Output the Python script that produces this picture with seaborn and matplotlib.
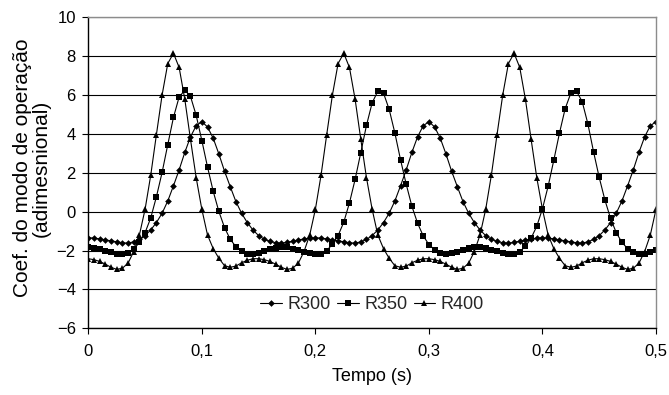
import matplotlib
matplotlib.use("Agg")
import matplotlib.pyplot as plt
import pandas as pd
import seaborn as sns

sns.set_theme(style="ticks")
plt.rcParams['font.family'] = ['Liberation Sans', 'DejaVu Sans']

# ---------------- data ----------------
time_s = [0.000, 0.005, 0.010, 0.015, 0.020, 0.025, 0.030, 0.035, 0.040, 0.045,
          0.050, 0.055, 0.060, 0.065, 0.070, 0.075, 0.080, 0.085, 0.090, 0.095,
          0.100, 0.105, 0.110, 0.115, 0.120, 0.125, 0.130, 0.135, 0.140, 0.145,
          0.150, 0.155, 0.160, 0.165, 0.170, 0.175, 0.180, 0.185, 0.190, 0.195,
          0.200, 0.205, 0.210, 0.215, 0.220, 0.225, 0.230, 0.235, 0.240, 0.245,
          0.250, 0.255, 0.260, 0.265, 0.270, 0.275, 0.280, 0.285, 0.290, 0.295,
          0.300, 0.305, 0.310, 0.315, 0.320, 0.325, 0.330, 0.335, 0.340, 0.345,
          0.350, 0.355, 0.360, 0.365, 0.370, 0.375, 0.380, 0.385, 0.390, 0.395,
          0.400, 0.405, 0.410, 0.415, 0.420, 0.425, 0.430, 0.435, 0.440, 0.445,
          0.450, 0.455, 0.460, 0.465, 0.470, 0.475, 0.480, 0.485, 0.490, 0.495,
          0.500]

r300 = [-1.34, -1.36, -1.40, -1.45, -1.50, -1.55, -1.60, -1.62, -1.55, -1.43,
        -1.23, -0.94, -0.56, -0.08, 0.55, 1.33, 2.15, 3.05, 3.85, 4.42,
        4.63, 4.36, 3.78, 2.97, 2.08, 1.29, 0.52, -0.08, -0.56, -0.94,
        -1.23, -1.42, -1.53, -1.60, -1.62, -1.58, -1.52, -1.46, -1.40, -1.36,
        -1.34, -1.36, -1.40, -1.45, -1.50, -1.55, -1.60, -1.62, -1.55, -1.43,
        -1.23, -0.94, -0.56, -0.08, 0.55, 1.33, 2.15, 3.05, 3.85, 4.42,
        4.63, 4.36, 3.78, 2.97, 2.08, 1.29, 0.52, -0.08, -0.56, -0.94,
        -1.23, -1.42, -1.53, -1.60, -1.62, -1.58, -1.52, -1.46, -1.40, -1.36,
        -1.34, -1.36, -1.40, -1.45, -1.50, -1.55, -1.60, -1.62, -1.55, -1.43,
        -1.23, -0.94, -0.56, -0.08, 0.55, 1.33, 2.15, 3.05, 3.85, 4.42,
        4.63]

r350 = [-1.83, -1.85, -1.92, -2.00, -2.09, -2.17, -2.20, -2.14, -1.94, -1.58,
        -1.08, -0.32, 0.77, 2.02, 3.45, 4.85, 5.90, 6.25, 5.93, 4.96,
        3.66, 2.30, 1.05, 0.01, -0.82, -1.42, -1.80, -2.03, -2.16, -2.18,
        -2.12, -2.02, -1.92, -1.85, -1.83, -1.84, -1.90, -1.98, -2.06, -2.15,
        -2.19, -2.16, -2.00, -1.68, -1.23, -0.54, 0.45, 1.66, 3.04, 4.44,
        5.60, 6.20, 6.10, 5.26, 4.05, 2.67, 1.41, 0.28, -0.59, -1.25,
        -1.69, -1.96, -2.12, -2.17, -2.14, -2.05, -1.95, -1.87, -1.84, -1.84,
        -1.88, -1.96, -2.04, -2.13, -2.19, -2.17, -2.05, -1.79, -1.36, -0.75,
        0.15, 1.31, 2.65, 4.05, 5.30, 6.10, 6.20, 5.66, 4.52, 3.08,
        1.76, 0.60, -0.35, -1.08, -1.58, -1.90, -2.09, -2.17, -2.16, -2.08,
        -1.98]

r400 = [-2.42, -2.47, -2.56, -2.70, -2.86, -2.97, -2.91, -2.65, -2.05, -1.20,
        0.12, 1.88, 3.97, 6.00, 7.62, 8.15, 7.42, 5.78, 3.72, 1.75,
        0.12, -1.20, -1.90, -2.40, -2.78, -2.86, -2.80, -2.63, -2.50, -2.42,
        -2.42, -2.47, -2.56, -2.70, -2.86, -2.97, -2.91, -2.65, -2.05, -1.20,
        0.12, 1.88, 3.97, 6.00, 7.62, 8.15, 7.42, 5.78, 3.72, 1.75,
        0.12, -1.20, -1.90, -2.40, -2.78, -2.86, -2.80, -2.63, -2.50, -2.42,
        -2.42, -2.47, -2.56, -2.70, -2.86, -2.97, -2.91, -2.65, -2.05, -1.20,
        0.12, 1.88, 3.97, 6.00, 7.62, 8.15, 7.42, 5.78, 3.72, 1.75,
        0.12, -1.20, -1.90, -2.40, -2.78, -2.86, -2.80, -2.63, -2.50, -2.42,
        -2.42, -2.47, -2.56, -2.70, -2.86, -2.97, -2.91, -2.65, -2.05, -1.20,
        0.12]

series_names = ["R300", "R350", "R400"]
x_tick_values = [0, 0.1, 0.2, 0.3, 0.4, 0.5]
x_tick_labels = ["0", "0,1", "0,2", "0,3", "0,4", "0,5"]
y_tick_values = [-6, -4, -2, 0, 2, 4, 6, 8, 10]
x_title = "Tempo (s)"
y_title = "Coef. do modo de operação\n(adimesnional)"

# ---------------- table ----------------
df = pd.DataFrame({
    "t": time_s * 3,
    "v": r300 + r350 + r400,
    "serie": [series_names[0]] * len(r300) + [series_names[1]] * len(r350)
             + [series_names[2]] * len(r400),
})

# ---------------- figure ----------------
W, H = 669, 395
fig = plt.figure(figsize=(W / 100, H / 100), dpi=100)
ax = fig.add_axes([88.3 / W, 1 - 328.3 / H, 567.7 / W, 311 / H])

markers = {"R300": "D", "R350": "s", "R400": "^"}
msizes = {"R300": 3.4, "R350": 4.2, "R400": 4.6}
for name in series_names:
    sns.lineplot(data=df[df["serie"] == name], x="t", y="v", ax=ax,
                 color="black", linewidth=0.8, marker=markers[name],
                 markersize=msizes[name], markeredgewidth=0,
                 markerfacecolor="black", label=name,
                 estimator=None, sort=False)

ax.set_xlim(0, 0.5)
ax.set_ylim(-6, 10)
ax.set_xticks(x_tick_values)
ax.set_xticklabels(x_tick_labels)
ax.set_yticks(y_tick_values)
ax.grid(axis="y", color="black", linewidth=0.8)
ax.grid(axis="x", visible=False)
ax.set_axisbelow(True)

for side in ["left", "bottom"]:
    ax.spines[side].set_color("black")
    ax.spines[side].set_linewidth(1.0)
for side in ["top", "right"]:
    ax.spines[side].set_visible(True)
    ax.spines[side].set_color("#8c8c8c")
    ax.spines[side].set_linewidth(1.0)

ax.tick_params(axis="both", direction="out", length=4, width=0.8,
               color="black", labelsize=12, labelcolor="black")
ax.tick_params(axis="x", pad=7)
ax.tick_params(axis="y", pad=5)

ax.set_xlabel(x_title, fontsize=13, color="black", labelpad=7)
ax.set_ylabel("")
fig.text(32 / W, 1 - 168 / H, y_title, rotation=90, ha="center", va="center",
         fontsize=15, color="black", multialignment="center", linespacing=0.95)

leg = ax.legend(loc="center", bbox_to_anchor=(0.5, 0.075), ncol=3,
                frameon=False, fontsize=13, handlelength=1.2,
                handletextpad=0.3, columnspacing=0.35, borderaxespad=0)

fig.savefig("out.png", dpi=100)
